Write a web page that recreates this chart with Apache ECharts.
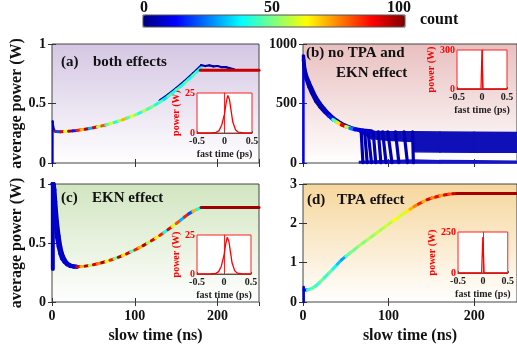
<!DOCTYPE html>
<html>
<head>
<meta charset="utf-8">
<script src="https://cdn.jsdelivr.net/npm/echarts@6/dist/echarts.min.js"></script>
<style>
  html, body { margin: 0; padding: 0; background: #fff; }
  #main { width: 517px; height: 350px; }
</style>
</head>
<body>
<div id="main"></div>
<script>
const FONT = '"Liberation Serif", "DejaVu Serif", serif';

// ---- panel (a): both effects ----
const aT = [3, 5, 10, 15, 20, 25, 30, 35, 40, 45, 50, 55, 60, 65, 70, 75, 80, 85, 90, 95, 100, 105, 110, 115, 120, 125, 130, 135, 140, 145, 150, 155, 160, 165, 170, 175, 180];
const aY = [0.268, 0.265, 0.262, 0.264, 0.267, 0.270, 0.274, 0.279, 0.284, 0.290, 0.297, 0.304, 0.312, 0.320, 0.330, 0.340, 0.351, 0.363, 0.376, 0.389, 0.403, 0.418, 0.434, 0.451, 0.469, 0.489, 0.511, 0.534, 0.559, 0.586, 0.614, 0.642, 0.672, 0.703, 0.735, 0.767, 0.800];
const aC = [95, 20, 90, 60, 95, 15, 85, 70, 95, 30, 90, 55, 80, 45, 60, 40, 55, 70, 45, 60, 50, 40, 55, 45, 50, 40, 45, 35, 45, 40, 45, 40, 45, 40, 45, 40, 45];
const aEnvT = [130, 140, 150, 160, 170, 180];
const aEnvY = [0.526, 0.574, 0.630, 0.688, 0.752, 0.820];
const aTopT = [180, 185, 190, 195, 200, 205, 210, 215, 220];
const aTopY = [0.822, 0.815, 0.82, 0.812, 0.815, 0.805, 0.806, 0.795, 0.788];
const aFlatT = [179, 250];
const aFlatY = [0.78, 0.78];
const aSpkT = [0.8, 0.8, 1.5, 2.5, 4];
const aSpkY = [0, 0.35, 0.31, 0.28, 0.268];

// ---- panel (b): no TPA and EKN ----
const bT = [0.5, 2, 4, 7, 10, 15, 20, 25, 30, 35, 40, 45, 50, 55, 60, 70, 80];
const bY1 = [870, 760, 700, 640, 590, 520, 470, 430, 395, 365, 340, 320, 305, 292, 282, 270, 262];
const bY2 = [900, 790, 735, 680, 630, 555, 500, 455, 415, 382, 355, 332, 315, 300, 288, 276, 268];
const bC1 = [5, 5, 5, 5, 5, 5, 5, 8, 15, 45, 65, 90, 55, 25, 10, 8, 5];
const bSpkT = [0.5, 0.5];
const bSpkY = [0, 900];
const bBandT = [66, 80, 100, 128, 130, 160, 200, 250];
const bBandHi = [272, 265, 262, 262, 262, 261, 259, 257];
const bBandLo = [262, 205, 190, 180, 95, 92, 90, 90];
const bDropT0 = [68, 72, 76, 82, 88, 93, 99, 108, 118, 128];
const bDropT1 = [70, 75, 80, 85, 91, 97, 104, 112, 122, 129];
const bBotT = [66, 100, 129, 160, 200, 250];
const bBotY = [12, 20, 25, 20, 18, 15];

// ---- panel (c): EKN effect ----
const cDecT = [0.5, 1, 2, 3, 4, 5, 6, 8, 10, 12, 15, 18, 22, 26, 30];
const cDecY1 = [1.0, 1.0, 0.93, 0.82, 0.71, 0.62, 0.55, 0.47, 0.41, 0.37, 0.34, 0.32, 0.305, 0.30, 0.298];
const cDecY2 = [1.0, 1.0, 1.0, 0.95, 0.85, 0.76, 0.68, 0.56, 0.47, 0.41, 0.36, 0.33, 0.31, 0.302, 0.298];
const cSpkT = [1, 1];
const cSpkY = [0.28, 1.0];
const cT = [30, 35, 40, 45, 50, 55, 60, 65, 70, 75, 80, 85, 90, 95, 100, 105, 110, 115, 120, 125, 130, 135, 140, 145, 150, 155, 160, 165, 170, 175, 180];
const cY = [0.298, 0.300, 0.304, 0.309, 0.316, 0.324, 0.333, 0.343, 0.354, 0.366, 0.379, 0.393, 0.408, 0.424, 0.441, 0.459, 0.478, 0.498, 0.519, 0.541, 0.564, 0.588, 0.613, 0.639, 0.665, 0.692, 0.72, 0.747, 0.768, 0.785, 0.80];
const cC = [90, 70, 95, 55, 90, 75, 95, 60, 85, 50, 95, 65, 90, 45, 85, 70, 95, 55, 90, 60, 85, 40, 90, 60, 80, 30, 85, 20, 70, 40, 80];
const cFlatT = [180, 250];
const cFlatY = [0.80, 0.80];

// ---- panel (d): TPA effect ----
const dT = [1, 5, 10, 15, 20, 25, 30, 35, 40, 45, 50, 55, 60, 65, 70, 75, 80, 85, 90, 95, 100, 105, 110, 115, 120, 125, 130, 135, 140, 145, 150, 155, 160, 165, 170, 175, 180];
const dY = [0.30, 0.31, 0.34, 0.41, 0.51, 0.62, 0.73, 0.84, 0.96, 1.07, 1.16, 1.25, 1.33, 1.42, 1.50, 1.58, 1.66, 1.74, 1.82, 1.90, 1.98, 2.06, 2.13, 2.21, 2.28, 2.36, 2.43, 2.49, 2.55, 2.60, 2.64, 2.67, 2.70, 2.72, 2.74, 2.75, 2.76];
const dC = [10, 42, 46, 42, 48, 42, 46, 38, 32, 28, 46, 50, 48, 54, 50, 55, 52, 57, 54, 58, 56, 62, 60, 58, 64, 70, 75, 85, 70, 90, 75, 88, 72, 90, 80, 92, 95];
const dFlatT = [180, 250];
const dFlatY = [2.76, 2.76];
const dSpkT = [0.8, 0.8];
const dSpkY = [0, 0.38];

// ---- insets: pulse in fast time ----
const fastA = [-0.5, -0.25, -0.15, -0.1, -0.05, 0, 0.03, 0.06, 0.09, 0.12, 0.15, 0.2, 0.25, 0.35, 0.5];
const powA = [0, 0, 0.4, 1.5, 5, 12, 19, 23.5, 21, 14, 7, 2, 0.5, 0, 0];
const fastB = [-0.5, -0.02, 0, 0.02, 0.5];
const powB = [0, 0, 300, 0, 0];
const fastC = [-0.5, -0.25, -0.15, -0.1, -0.05, 0, 0.03, 0.06, 0.09, 0.12, 0.15, 0.2, 0.25, 0.35, 0.5];
const powC = [0, 0, 0.4, 1.5, 5, 12, 19, 23.5, 21, 14, 7, 2, 0.5, 0, 0];
const fastD = [-0.5, -0.025, 0, 0.025, 0.5];
const powD = [0, 0, 220, 0, 0];

const JET = ['#00007f', '#0000ff', '#007fff', '#00ffff', '#7fff7f', '#ffff00', '#ff7f00', '#ff0000', '#7f0000'];

const grids = [
  { left: 52, top: 44, width: 207, height: 119 },
  { left: 303, top: 44, width: 215, height: 119 },
  { left: 52, top: 184, width: 207, height: 118 },
  { left: 303, top: 184, width: 216, height: 118 },
  { left: 197, top: 93, width: 55, height: 40 },
  { left: 457, top: 50, width: 50, height: 39 },
  { left: 197, top: 235, width: 54, height: 39 },
  { left: 458, top: 232, width: 50, height: 41 },
];
const bgTop = ['#d4c6e3', '#e9bfbf', '#d1e5c0', '#f6d69c'];

const lbl = { fontFamily: FONT, fontWeight: 'bold', fontSize: 14, color: '#111', formatter: v => String(v) };

const xAxes = [], yAxes = [];
const yMax = [1, 1000, 1, 3], yInt = [0.5, 500, 0.5, 1];
for (let i = 0; i < 4; i++) {
  const bottom = i >= 2;
  xAxes.push({
    type: 'value', gridIndex: i, min: 0, max: 250, interval: 100,
    axisLine: { show: false },
    axisTick: { inside: true, length: 4, lineStyle: { color: '#333' } },
    axisLabel: Object.assign({ show: bottom, showMaxLabel: false, margin: 7 }, lbl),
    splitLine: { show: false },
    name: bottom ? 'slow time (ns)' : '', nameLocation: 'middle', nameGap: 26,
    nameTextStyle: { fontFamily: FONT, fontWeight: 'bold', fontSize: 16, color: '#111' },
  });
  yAxes.push({
    type: 'value', gridIndex: i, min: 0, max: yMax[i], interval: yInt[i],
    axisLine: { show: false },
    axisTick: { inside: true, length: 4, lineStyle: { color: '#333' } },
    axisLabel: Object.assign({ margin: 6 }, lbl),
    splitLine: { show: false },
    name: (i === 0 || i === 2) ? 'average power (W)' : '', nameLocation: 'middle', nameGap: 27,
    nameTextStyle: { fontFamily: FONT, fontWeight: 'bold', fontSize: 16, color: '#111' },
  });
}
const insetMax = [25, 300, 25, 250];
for (let k = 0; k < 4; k++) {
  xAxes.push({
    type: 'value', gridIndex: 4 + k, min: -0.5, max: 0.5, interval: 0.5,
    axisLine: { show: true, lineStyle: { color: '#555' } },
    axisTick: { inside: true, length: 2, lineStyle: { color: '#555' } },
    axisLabel: { fontFamily: FONT, fontWeight: 'bold', fontSize: 10, color: '#222', margin: 3 },
    splitLine: { show: false },
    name: 'fast time (ps)', nameLocation: 'middle', nameGap: 16,
    nameTextStyle: { fontFamily: FONT, fontWeight: 'bold', fontSize: 10, color: '#222' },
  });
  yAxes.push({
    type: 'value', gridIndex: 4 + k, min: 0, max: insetMax[k], interval: insetMax[k],
    axisLine: { show: true, lineStyle: { color: '#ff2020' } },
    axisTick: { show: false },
    axisLabel: { fontFamily: FONT, fontWeight: 'bold', fontSize: 10, color: '#ff0000', margin: 2 },
    splitLine: { show: false },
    name: 'power (W)', nameLocation: 'middle', nameGap: k === 1 || k === 3 ? 20 : 15,
    nameTextStyle: { fontFamily: FONT, fontWeight: 'bold', fontSize: 10, color: '#ff0000' },
  });
}
// tick marks on the top and right edges of the main panels
for (let i = 0; i < 4; i++) {
  xAxes.push({
    type: 'value', gridIndex: i, position: 'top', min: 0, max: 250, interval: 100,
    axisLine: { show: false }, axisLabel: { show: false }, splitLine: { show: false },
    axisTick: { inside: true, length: 4, lineStyle: { color: '#333' } },
  });
  yAxes.push({
    type: 'value', gridIndex: i, position: 'right', min: 0, max: yMax[i], interval: yInt[i],
    axisLine: { show: false }, axisLabel: { show: false }, splitLine: { show: false },
    axisTick: { inside: true, length: 4, lineStyle: { color: '#333' } },
  });
}

const series = [];
const vmSeries = [];

function trace(t, y, c) { return { t, y, c }; }

function addSegs(g, traces, lw) {
  const data = [];
  traces.forEach(tr => {
    for (let i = 0; i < tr.t.length - 1; i++) {
      const c = Array.isArray(tr.c) ? tr.c[i] : tr.c;
      data.push([tr.t[i], tr.y[i], tr.t[i + 1], tr.y[i + 1], c]);
    }
  });
  vmSeries.push(series.length);
  series.push({
    type: 'custom', xAxisIndex: g, yAxisIndex: g, data, silent: true,
    renderItem: (params, api) => {
      const p0 = api.coord([api.value(0), api.value(1)]);
      const p1 = api.coord([api.value(2), api.value(3)]);
      return {
        type: 'line',
        shape: { x1: p0[0], y1: p0[1], x2: p1[0], y2: p1[1] },
        style: { stroke: api.visual('color'), lineWidth: lw, lineCap: 'round' },
      };
    },
  });
}

// filled band between lo and hi, one quad per step
function addBand(g, t, lo, hi, color) {
  const data = [];
  for (let i = 0; i < t.length - 1; i++) data.push([t[i], lo[i], hi[i], t[i + 1], lo[i + 1], hi[i + 1]]);
  series.push({
    type: 'custom', xAxisIndex: g, yAxisIndex: g, data, silent: true,
    renderItem: (params, api) => {
      const pts = [
        api.coord([api.value(0), api.value(1)]),
        api.coord([api.value(0), api.value(2)]),
        api.coord([api.value(3), api.value(5)]),
        api.coord([api.value(3), api.value(4)]),
      ];
      return { type: 'polygon', shape: { points: pts }, style: { fill: color, stroke: color, lineWidth: 1.5 } };
    },
  });
}

// panel (b) band of traces
addBand(1, bBandT, bBandLo, bBandHi, '#1010b8');
addBand(1, bBotT, bBotT.map(() => 0), bBotY, '#1414c8');

// panel (a)
addSegs(0, [trace(aSpkT, aSpkY, 6)], 2);
addSegs(0, [trace(aEnvT, aEnvY, 4), trace(aTopT, aTopY, 4)], 2.2);
addSegs(0, [trace(aT, aY, aC), trace(aFlatT, aFlatY, 93)], 3);
// panel (b)
addSegs(1, [trace(bSpkT, bSpkY, 12)], 2.5);
addSegs(1, bDropT0.map((t0, i) => trace([t0, bDropT1[i]], [262, 2], 5)), 3.2);
addSegs(1, [trace(bT, bY2, 5), trace(bT, bY1, bC1)], 3.5);
// panel (c)
addSegs(2, [trace(cSpkT, cSpkY, 6), trace(cDecT, cDecY2, 4), trace(cDecT, cDecY1, 8)], 4);
addSegs(2, [trace(cT, cY, cC), trace(cFlatT, cFlatY, 97)], 3);
// panel (d)
addSegs(3, [trace(dSpkT, dSpkY, 8)], 2.5);
addSegs(3, [trace(dT, dY, dC), trace(dFlatT, dFlatY, 96)], 3);

// insets
[[fastA, powA], [fastB, powB], [fastC, powC], [fastD, powD]].forEach((p, k) => {
  series.push({
    type: 'line', xAxisIndex: 4 + k, yAxisIndex: 4 + k, symbol: 'none', silent: true,
    lineStyle: { width: 1.3, color: '#ff0000' },
    data: p[0].map((x, i) => [x, p[1][i]]),
  });
});

const txt = (x, y, s, size) => ({
  type: 'text', x, y, silent: true, z: 100,
  style: { text: s, font: `bold ${size || 15}px ${FONT}`, fill: '#111', textVerticalAlign: 'middle' },
});

const option = {
  animation: false,
  grid: grids.map((g, i) => Object.assign({
    show: true, borderWidth: 1,
    borderColor: i < 4 ? '#444' : '#ff2020',
    backgroundColor: i < 4
      ? new echarts.graphic.LinearGradient(0, 0, 0, 1, [{ offset: 0, color: bgTop[i] }, { offset: 1, color: '#ffffff' }])
      : '#ffffff',
  }, g)),
  xAxis: xAxes,
  yAxis: yAxes,
  visualMap: {
    type: 'continuous', min: 0, max: 100, dimension: 4, seriesIndex: vmSeries,
    orient: 'horizontal', left: 143, top: 15, itemWidth: 12, itemHeight: 262,
    padding: 0, calculable: false, text: null, showLabel: false,
    inRange: { color: JET },
  },
  graphic: [
    { type: 'rect', shape: { x: 143, y: 15, width: 262, height: 12 }, style: { fill: 'none', stroke: '#555', lineWidth: 1 }, z: 100, silent: true },
    { type: 'text', x: 144, y: 8, style: { text: '0', font: `bold 16px ${FONT}`, fill: '#111', textAlign: 'center', textVerticalAlign: 'middle' } },
    { type: 'text', x: 272, y: 8, style: { text: '50', font: `bold 16px ${FONT}`, fill: '#111', textAlign: 'center', textVerticalAlign: 'middle' } },
    { type: 'text', x: 399, y: 8, style: { text: '100', font: `bold 16px ${FONT}`, fill: '#111', textAlign: 'center', textVerticalAlign: 'middle' } },
    { type: 'text', x: 420, y: 20, style: { text: 'count', font: `bold 16px ${FONT}`, fill: '#111', textVerticalAlign: 'middle' } },
    txt(61, 62, '(a)'), txt(93, 62, 'both effects'),
    txt(306, 53, '(b) no TPA and'), txt(336, 73, 'EKN effect'),
    txt(61, 198, '(c)'), txt(92, 198, 'EKN effect'),
    txt(307, 200, '(d)'), txt(337, 200, 'TPA effect'),
  ],
  series,
};

const chart = echarts.init(document.getElementById('main'));
chart.setOption(option);
</script>
</body>
</html>
